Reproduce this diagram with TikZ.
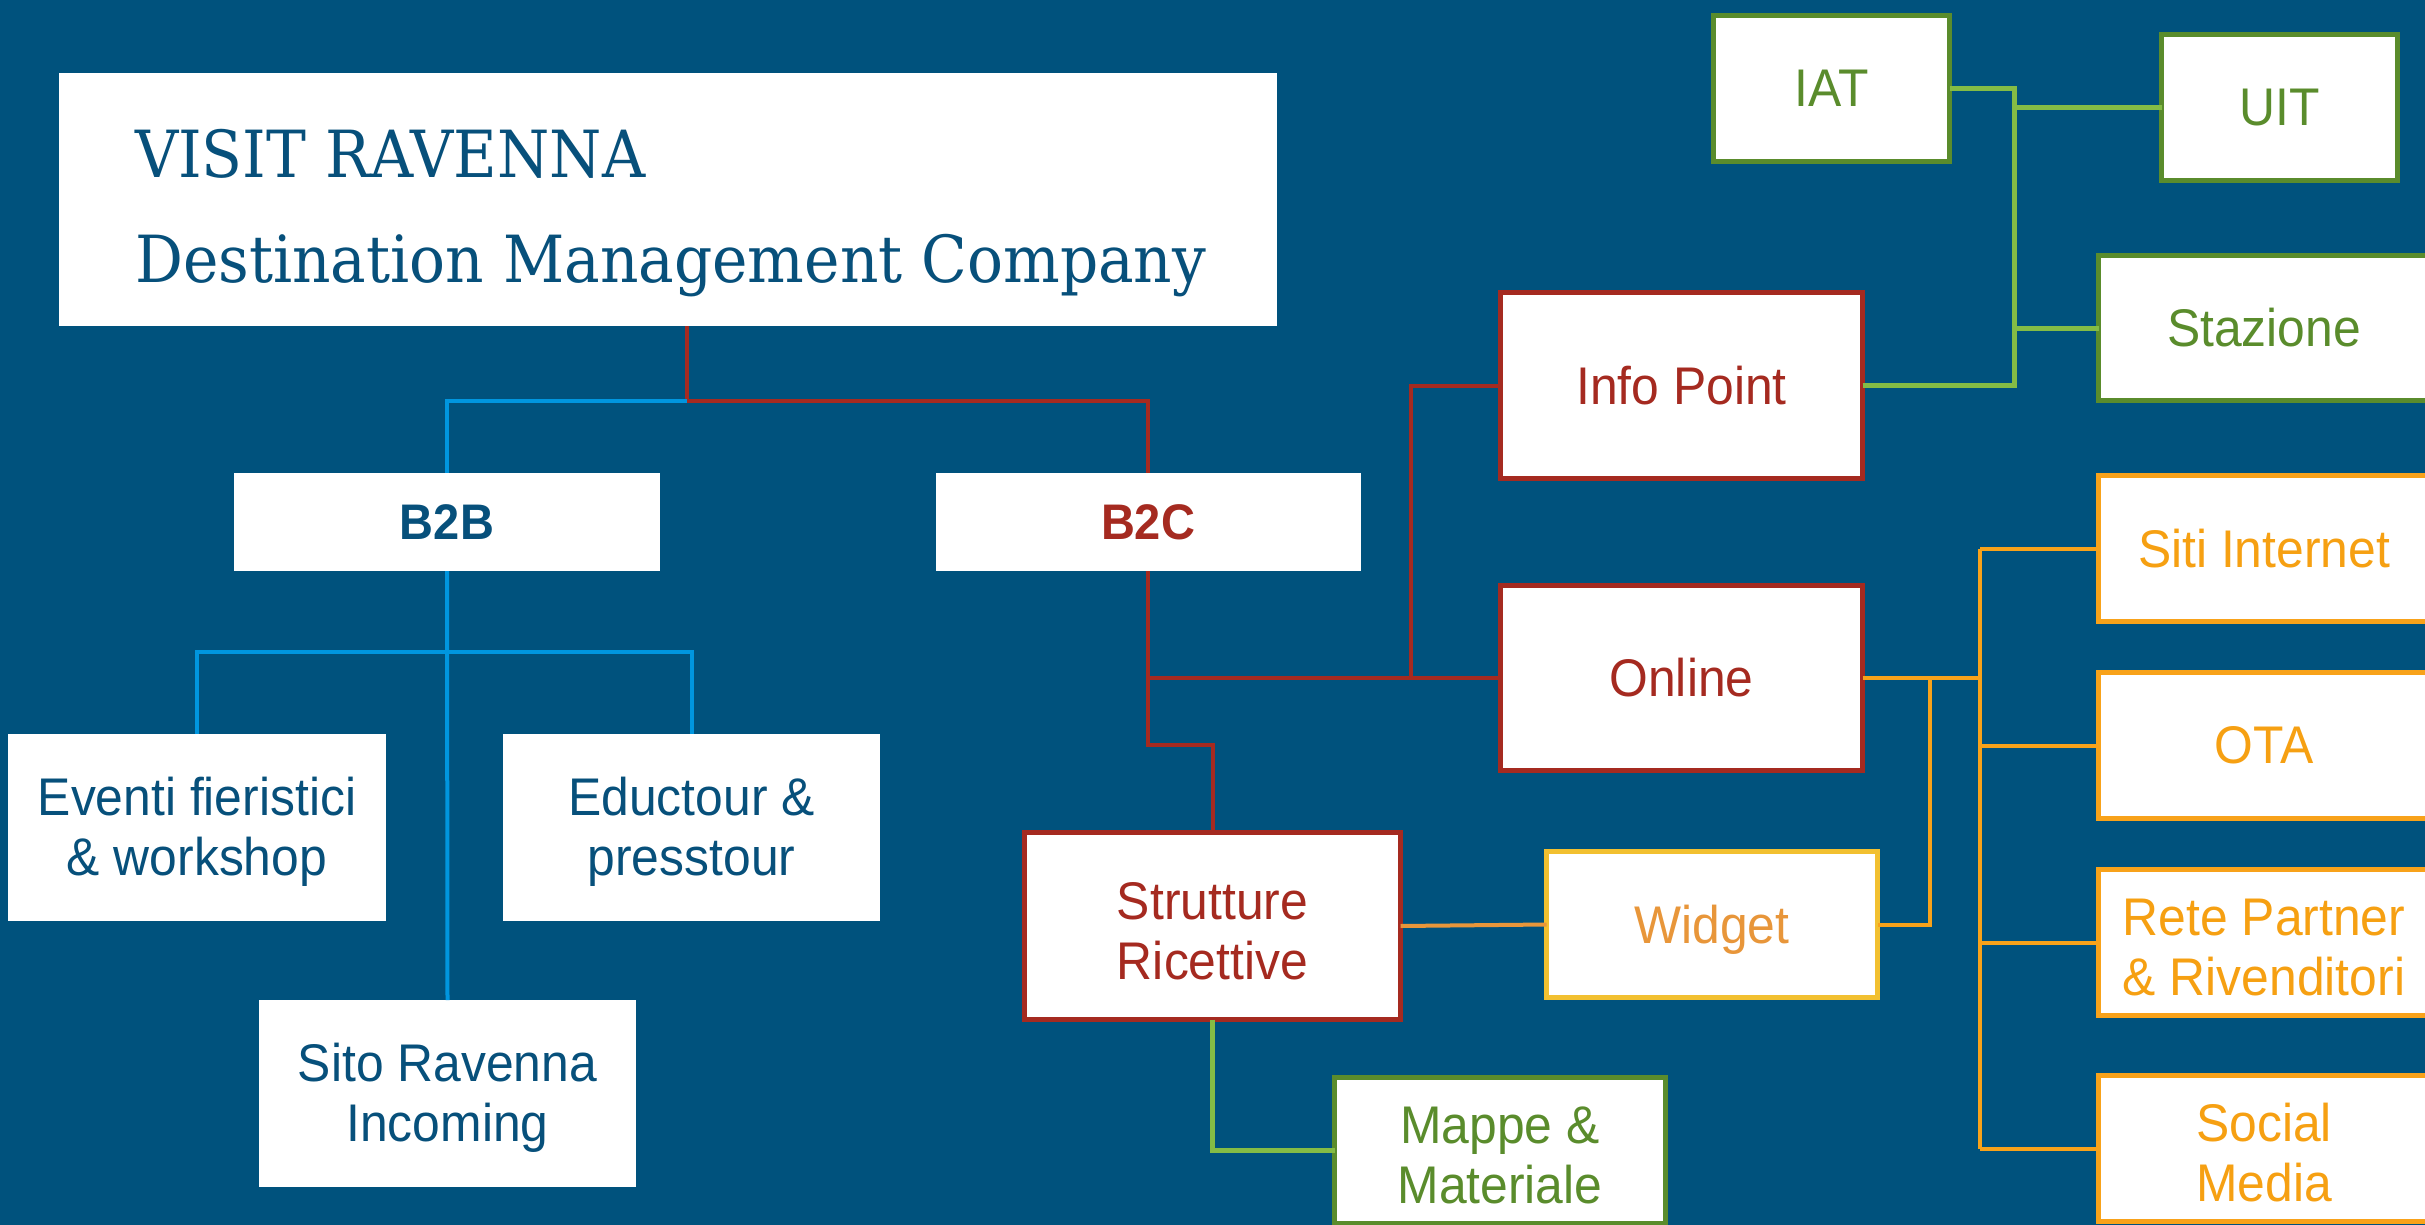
\documentclass[tikz,border=0pt]{standalone}
\usepackage{fontspec}
\setmainfont{Liberation Sans}[FakeStretch=0.94]
\newfontfamily\titlefont{DejaVu Serif}[FakeStretch=0.92]
\definecolor{bg}{HTML}{00527D}
\definecolor{txtblue}{HTML}{07507B}
\definecolor{dred}{HTML}{A52A20}
\definecolor{lblue}{HTML}{0096DF}
\definecolor{dgreen}{HTML}{5A8C2C}
\definecolor{lgreen}{HTML}{84BC45}
\definecolor{orng}{HTML}{F8A21A}
\definecolor{orngtxt}{HTML}{F6A012}
\definecolor{wtxt}{HTML}{E8963A}
\definecolor{wbord}{HTML}{F2C030}
\newcommand\firstline{\rule{0pt}{47pt}}
\begin{document}
\begin{tikzpicture}[x=1pt,y=-1pt,
  boxbase/.style={fill=white, inner sep=0pt, outer sep=0pt, align=center,
    font=\fontsize{53}{60}\selectfont, line width=5pt},
  plainbox/.style={boxbase, text=txtblue},
  redbox/.style={boxbase, draw=dred, text=dred},
  greenbox/.style={boxbase, draw=dgreen, text=dgreen},
  orangebox/.style={boxbase, draw=orng, text=orngtxt},
  widgetbox/.style={boxbase, draw=wbord, text=wtxt},
  titletxt/.style={inner sep=0pt, text=txtblue, font=\titlefont\fontsize{65}{76}\selectfont},
  conn/.style={line width=4pt},
  blueline/.style={conn, draw=lblue},
  redline/.style={conn, draw=dred},
  greenline/.style={conn, line width=5pt, draw=lgreen},
  orangeline/.style={conn, draw=orng},
]
\fill[bg] (0,0) rectangle (2425,1225);
\useasboundingbox (0,0) rectangle (2425,1225);

% title
\node[plainbox, minimum width=1218pt, minimum height=253pt] (title) at (668,199.5) {};
\node[titletxt, anchor=base west] (t1) at (135,178) {VISIT RAVENNA};
\node[titletxt, anchor=base west] (t2) at (135,282) {Destination Management Company};

% level 1
\node[plainbox, minimum width=426pt, minimum height=98pt, font=\bfseries\fontsize{50}{58}\selectfont] (b2b) at (447,522) {B2B};
\node[plainbox, text=dred, minimum width=425pt, minimum height=98pt, font=\bfseries\fontsize{50}{58}\selectfont] (b2c) at (1148,522) {B2C};

% B2B children
\node[plainbox, minimum width=378pt, minimum height=187pt] (eventi) at (197,827.5) {\firstline Eventi fieristici\\\& workshop};
\node[plainbox, minimum width=377pt, minimum height=187pt] (educ) at (691.5,827.5) {\firstline Eductour \&\\presstour};
\node[plainbox, minimum width=377pt, minimum height=187pt] (sito) at (447.5,1093.5) {\firstline Sito Ravenna\\Incoming};

% B2C children
\node[redbox, minimum width=362pt, minimum height=186pt] (info) at (1681.5,385.5) {Info Point};
\node[redbox, minimum width=362pt, minimum height=185pt] (online) at (1681.5,678) {Online};
\node[redbox, minimum width=376pt, minimum height=187pt] (strut) at (1212.5,926) {\firstline Strutture\\Ricettive};
\node[widgetbox, minimum width=331pt, minimum height=146pt, text depth=0pt] (widget) at (1712,924.5) {Widget};
\node[greenbox, minimum width=331pt, minimum height=146pt] (mappe) at (1500,1150.5) {\firstline Mappe \&\\Materiale};

% info point children
\node[greenbox, minimum width=236pt, minimum height=146pt] (iat) at (1831.5,88.5) {IAT};
\node[greenbox, minimum width=236pt, minimum height=146pt] (uit) at (2279.5,107.5) {UIT};
\node[greenbox, minimum width=331pt, minimum height=145pt] (staz) at (2264,328) {Stazione};

% online children
\node[orangebox, minimum width=331pt, minimum height=146pt] (siti) at (2264,548.5) {Siti Internet};
\node[orangebox, minimum width=331pt, minimum height=146pt] (ota) at (2264,745.5) {OTA};
\node[orangebox, minimum width=331pt, minimum height=146pt] (rete) at (2264,942.5) {\firstline Rete Partner\\\& Rivenditori};
\node[orangebox, minimum width=331pt, minimum height=146pt] (social) at (2264,1148.5) {\firstline Social\\Media};

% connectors
\coordinate (j0) at (687,401);
\draw[redline] (title.south -| j0) -- (j0) -- (j0 -| b2c) -- (b2c.north);
\draw[blueline] (j0) -- (j0 -| b2b) -- (b2b.north);

\coordinate (jb) at (447,652);
\draw[blueline] (b2b.south) -- (sito.north);
\draw[blueline] (eventi.north) -- (eventi.north |- jb) -- (educ.north |- jb) -- (educ.north);

\coordinate (jc) at (1148,745);
\coordinate (jo) at (1148,678);
\coordinate (ji) at (1411,678);
\draw[redline] (b2c.south) -- (jc) -- (strut.north |- jc) -- (strut.north);
\draw[redline] (jo) -- (online.west);
\draw[redline] (ji) |- (info.west);

\coordinate (jg) at (2014,88.5);
\draw[greenline] (info.east) -| (jg) -- (iat.east);
\draw[greenline] (jg |- uit.west) -- (uit.west);
\draw[greenline] (jg |- staz.west) -- (staz.west);
\draw[greenline] (strut.south) |- (mappe.west);

\coordinate (jw) at (1930,678);
\coordinate (jr) at (1980,678);
\draw[orangeline] (online.east) -- (jr);
\draw[orangeline] (jw) |- (widget.east);
\draw[orangeline] (jr |- siti.west) -- (jr |- social.west);
\draw[orangeline] (jr |- siti.west) -- (siti.west);
\draw[orangeline] (jr |- ota.west) -- (ota.west);
\draw[orangeline] (jr |- rete.west) -- (rete.west);
\draw[orangeline] (jr |- social.west) -- (social.west);
\draw[conn, draw=wtxt] (strut.east) -- (widget.west);
\end{tikzpicture}
\end{document}
